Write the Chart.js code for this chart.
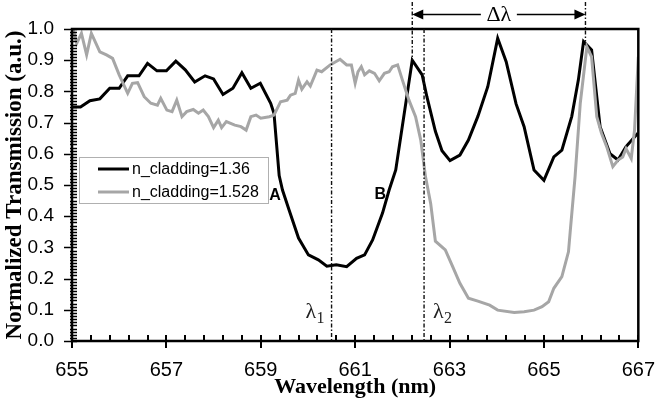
<!DOCTYPE html>
<html>
<head>
<meta charset="utf-8">
<script src="https://cdn.jsdelivr.net/npm/chart.js@4.4.0/dist/chart.umd.min.js"></script>
<style>
  html, body { margin: 0; padding: 0; background: #fff; }
  #wrap { width: 664px; height: 403px; }
</style>
</head>
<body>
<div id="wrap"><canvas id="chart" width="664" height="403"></canvas></div>
<script>
// wavelength (nm) / normalized transmission
const wlCore = [655.0, 655.18, 655.38, 655.59, 655.8, 656.0, 656.18, 656.42, 656.6, 656.8, 657.0, 657.2, 657.4, 657.6, 657.82, 658.0, 658.2, 658.41, 658.6, 658.79, 658.99, 659.21, 659.28, 659.39, 659.46, 659.6, 659.8, 660.01, 660.22, 660.4, 660.6, 660.82, 661.03, 661.2, 661.37, 661.58, 661.72, 661.86, 662.21, 662.42, 662.52, 662.7, 662.84, 663.01, 663.22, 663.4, 663.6, 663.81, 664.02, 664.2, 664.41, 664.58, 664.79, 665.0, 665.21, 665.38, 665.59, 665.73, 665.84, 666.01, 666.19, 666.4, 666.57, 666.74, 666.99];
const tCore = [0.75, 0.75, 0.77, 0.776, 0.81, 0.81, 0.85, 0.85, 0.89, 0.866, 0.866, 0.897, 0.869, 0.83, 0.85, 0.84, 0.79, 0.81, 0.86, 0.81, 0.826, 0.762, 0.73, 0.53, 0.484, 0.42, 0.33, 0.276, 0.26, 0.24, 0.244, 0.238, 0.265, 0.276, 0.324, 0.41, 0.484, 0.548, 0.90, 0.853, 0.783, 0.672, 0.61, 0.578, 0.596, 0.644, 0.72, 0.815, 0.97, 0.895, 0.76, 0.687, 0.548, 0.515, 0.59, 0.612, 0.72, 0.837, 0.96, 0.933, 0.687, 0.60, 0.58, 0.623, 0.666];

const wlClad = [655.03, 655.1, 655.2, 655.31, 655.41, 655.59, 655.73, 655.86, 656.0, 656.18, 656.28, 656.39, 656.53, 656.67, 656.81, 656.88, 657.01, 657.12, 657.22, 657.33, 657.43, 657.57, 657.68, 657.78, 657.89, 658.0, 658.1, 658.17, 658.27, 658.45, 658.58, 658.69, 658.79, 658.9, 659.0, 659.18, 659.28, 659.42, 659.56, 659.63, 659.73, 659.8, 659.87, 659.98, 660.05, 660.19, 660.29, 660.47, 660.68, 660.82, 660.92, 661.0, 661.06, 661.13, 661.2, 661.3, 661.41, 661.51, 661.62, 661.72, 661.79, 661.9, 662.0, 662.14, 662.28, 662.39, 662.49, 662.6, 662.7, 662.91, 663.05, 663.22, 663.4, 663.6, 663.85, 664.02, 664.37, 664.58, 664.79, 664.96, 665.1, 665.21, 665.38, 665.52, 665.56, 665.66, 665.77, 665.91, 666.01, 666.12, 666.22, 666.33, 666.46, 666.57, 666.67, 666.74, 666.85, 666.92, 667.0];
const tClad = [0.997, 0.954, 0.986, 0.917, 0.986, 0.927, 0.917, 0.906, 0.853, 0.794, 0.826, 0.828, 0.783, 0.762, 0.756, 0.778, 0.74, 0.735, 0.772, 0.719, 0.735, 0.742, 0.73, 0.74, 0.719, 0.684, 0.708, 0.684, 0.703, 0.692, 0.687, 0.676, 0.719, 0.724, 0.714, 0.719, 0.724, 0.767, 0.772, 0.788, 0.794, 0.836, 0.807, 0.831, 0.817, 0.868, 0.863, 0.885, 0.903, 0.885, 0.885, 0.826, 0.863, 0.879, 0.853, 0.866, 0.858, 0.834, 0.858, 0.863, 0.879, 0.885, 0.837, 0.772, 0.719, 0.644, 0.527, 0.441, 0.32, 0.292, 0.244, 0.185, 0.137, 0.128, 0.115, 0.099, 0.091, 0.094, 0.099, 0.11, 0.126, 0.169, 0.206, 0.286, 0.356, 0.527, 0.762, 0.943, 0.911, 0.719, 0.666, 0.623, 0.559, 0.58, 0.59, 0.617, 0.585, 0.676, 0.911];

const seriesNames = ['n_cladding=1.36', 'n_cladding=1.528'];
const seriesColors = ['#000000', '#a6a6a6'];

const xTicks = [655, 657, 659, 661, 663, 665, 667];
const yTicks = [0, 0.1, 0.2, 0.3, 0.4, 0.5, 0.6, 0.7, 0.8, 0.9, 1.0];

// lambda_1 / lambda_2 markers, and the two resonance peaks for delta lambda
const lambdaLines = [660.5, 662.46];
const lambdaNames = ['1', '2'];
const deltaPeaks = [[662.21, 0.90], [665.88, 0.96]];
const pointLabels = [['A', 659.3, 0.465], ['B', 661.53, 0.468]];

const toPoints = (xs, ys) => xs.map((x, i) => ({ x: x, y: ys[i] }));

const SANS = '"Liberation Sans", Arial, sans-serif';
const SERIF = '"Liberation Serif", "Times New Roman", serif';

function seg(ctx, x0, y0, x1, y1) {
    ctx.beginPath();
    ctx.moveTo(x0, y0);
    ctx.lineTo(x1, y1);
    ctx.stroke();
}

function dashLine(ctx, x, y0, y1) {
    ctx.save();
    ctx.strokeStyle = '#111';
    ctx.lineWidth = 1.4;
    ctx.setLineDash([4, 2, 1.5, 2]);
    seg(ctx, x, y0, x, y1);
    ctx.restore();
}

function arrowHead(ctx, x, y, dir) {
    ctx.beginPath();
    ctx.moveTo(x, y);
    ctx.lineTo(x - dir * 11, y - 5);
    ctx.lineTo(x - dir * 11, y + 5);
    ctx.closePath();
    ctx.fill();
}

const decor = {
    id: 'decor',
    afterDraw(chart) {
        const ctx = chart.ctx;
        const xs = chart.scales.x, ys = chart.scales.y;
        const a = chart.chartArea;

        ctx.save();
        ctx.strokeStyle = '#000';

        // frame
        ctx.lineWidth = 2.5;
        ctx.strokeRect(a.left, a.top, a.right - a.left, a.bottom - a.top);

        // x ticks: major cross the axis, minor every 0.4 nm point inward
        ctx.lineWidth = 2;
        for (let k = 0; k <= 30; k++) {
            const px = Math.round(xs.getPixelForValue(655 + k * 0.4));
            seg(ctx, px, a.bottom + (k % 5 === 0 ? 7 : 0), px, a.bottom - 6);
        }
        // y ticks: major outward, minor every 0.01
        ctx.lineWidth = 1.5;
        for (let i = 0; i <= 100; i++) {
            const py = Math.round(ys.getPixelForValue(i / 100)) + 0.5;
            seg(ctx, a.left - (i % 10 === 0 ? 8 : 2), py, a.left + 5, py);
        }
        ctx.restore();

        // lambda markers
        lambdaLines.forEach(v => {
            dashLine(ctx, xs.getPixelForValue(v), a.top, a.bottom);
        });
        // delta lambda markers
        deltaPeaks.forEach(p => {
            dashLine(ctx, xs.getPixelForValue(p[0]), 2, ys.getPixelForValue(p[1]));
        });

        ctx.save();
        ctx.fillStyle = '#000';
        ctx.strokeStyle = '#000';
        ctx.lineWidth = 1.6;
        const xa = xs.getPixelForValue(deltaPeaks[0][0]);
        const xb = xs.getPixelForValue(deltaPeaks[1][0]);
        const ya = 14.5;
        const mid = (xa + xb) / 2;
        seg(ctx, xa + 4, ya, mid - 18, ya);
        seg(ctx, mid + 18, ya, xb - 4, ya);
        arrowHead(ctx, xa, ya, -1);
        arrowHead(ctx, xb, ya, 1);
        ctx.font = '22px ' + SERIF;
        ctx.textAlign = 'center';
        ctx.textBaseline = 'middle';
        ctx.fillText('\u0394\u03bb', mid, ya + 1);

        // lambda labels
        lambdaLines.forEach((v, i) => {
            const px = xs.getPixelForValue(v);
            const lx = i === 0 ? px - 26 : px + 9;
            ctx.font = '22px ' + SERIF;
            ctx.textAlign = 'left';
            ctx.textBaseline = 'alphabetic';
            ctx.fillStyle = '#222';
            ctx.fillText('\u03bb', lx, 318);
            ctx.font = '16px ' + SERIF;
            ctx.fillText(lambdaNames[i], lx + 11, 323);
        });

        // A / B
        ctx.fillStyle = '#000';
        ctx.font = 'bold 16px ' + SANS;
        ctx.textAlign = 'center';
        ctx.textBaseline = 'middle';
        pointLabels.forEach(l => {
            ctx.fillText(l[0], xs.getPixelForValue(l[1]), ys.getPixelForValue(l[2]));
        });

        // legend box
        const lx = 79, ly = 157, lw = 189, lh = 46;
        ctx.fillStyle = '#fff';
        ctx.fillRect(lx, ly, lw, lh);
        ctx.strokeStyle = '#b0b0b0';
        ctx.lineWidth = 1;
        ctx.strokeRect(lx + 0.5, ly + 0.5, lw, lh);
        ctx.font = '16px ' + SANS;
        ctx.textAlign = 'left';
        seriesNames.forEach((name, i) => {
            const yy = ly + 12 + i * 23;
            ctx.strokeStyle = seriesColors[i];
            ctx.lineWidth = 3;
            seg(ctx, 98, yy, 129, yy);
            ctx.fillStyle = '#000';
            ctx.fillText(name, 132, yy + 1);
        });
        ctx.restore();
    }
};

new Chart(document.getElementById('chart'), {
    type: 'line',
    data: {
        datasets: [
            {
                label: seriesNames[0],
                data: toPoints(wlCore, tCore),
                borderColor: seriesColors[0],
                borderWidth: 3,
                pointRadius: 0,
                tension: 0,
                order: 1
            },
            {
                label: seriesNames[1],
                data: toPoints(wlClad, tClad),
                borderColor: seriesColors[1],
                borderWidth: 3,
                pointRadius: 0,
                tension: 0,
                order: 0
            }
        ]
    },
    options: {
        responsive: false,
        animation: false,
        devicePixelRatio: 1,
        layout: { padding: { top: 29, right: 18, left: 0, bottom: 0 } },
        plugins: {
            legend: { display: false },
            tooltip: { enabled: false }
        },
        scales: {
            x: {
                type: 'linear',
                min: 655,
                max: 667,
                grid: { display: false },
                border: { display: false },
                afterBuildTicks: s => { s.ticks = xTicks.map(v => ({ value: v })); },
                afterFit: s => { s.height = 62; },
                ticks: {
                    padding: 9,
                    color: '#000',
                    font: { family: SANS, size: 20 },
                    maxRotation: 0,
                    callback: v => String(v)
                },
                title: {
                    display: true,
                    text: 'Wavelength (nm)',
                    color: '#000',
                    font: { family: SERIF, size: 22, weight: 'bold' },
                    padding: { top: 0, bottom: 2 }
                }
            },
            y: {
                min: 0,
                max: 1,
                grid: { display: false },
                border: { display: false },
                afterBuildTicks: s => { s.ticks = yTicks.map(v => ({ value: v })); },
                afterFit: s => { s.width = 72; },
                ticks: {
                    padding: 10,
                    color: '#000',
                    font: { family: SANS, size: 19 },
                    callback: v => v.toFixed(1)
                },
                title: {
                    display: true,
                    text: 'Normalized Transmission (a.u.)',
                    color: '#000',
                    font: { family: SERIF, size: 23, weight: 'bold' },
                    padding: { top: 1, bottom: 0 }
                }
            }
        }
    },
    plugins: [decor]
});
</script>
</body>
</html>
